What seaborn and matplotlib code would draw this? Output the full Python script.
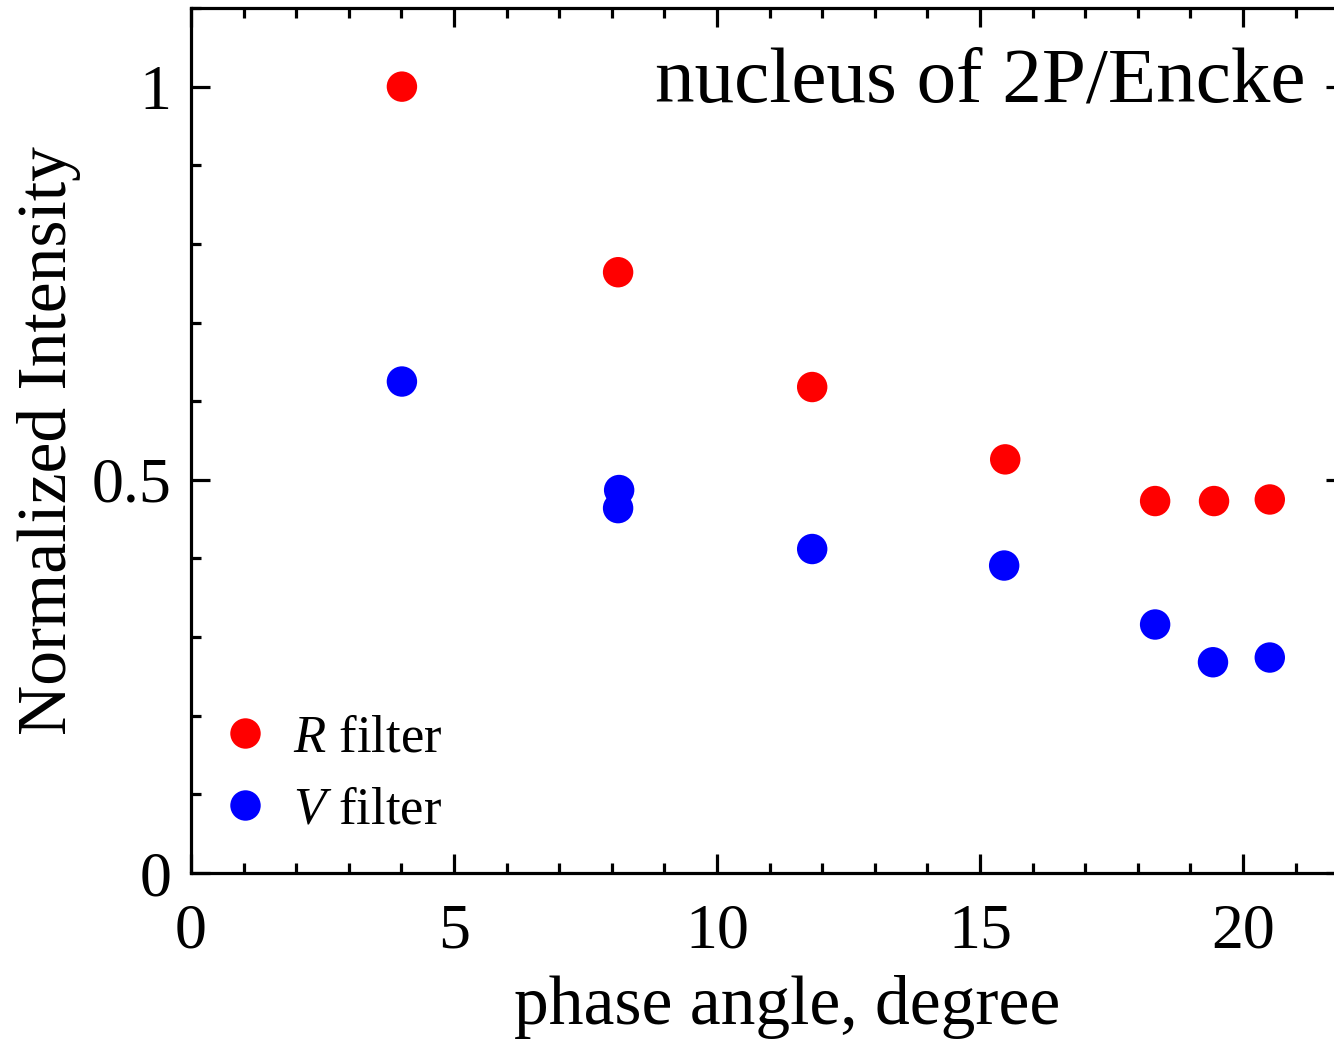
import matplotlib
matplotlib.use("Agg")
import matplotlib.pyplot as plt
import seaborn as sns
import pandas as pd
from matplotlib.ticker import MultipleLocator, FuncFormatter

# Data
r_phase = [4.01, 8.12, 11.81, 15.48, 18.33, 19.45, 20.51]
r_intensity = [1.000, 0.764, 0.618, 0.526, 0.473, 0.473, 0.475]
v_phase = [4.01, 8.14, 8.12, 11.81, 15.46, 18.33, 19.43, 20.51]
v_intensity = [0.625, 0.487, 0.464, 0.412, 0.391, 0.316, 0.268, 0.274]
labels = ["$\\mathit{R}$ filter", "$\\mathit{V}$ filter"]
title = "nucleus of 2P/Encke"

df = pd.DataFrame({
    "phase": r_phase + v_phase,
    "intensity": r_intensity + v_intensity,
    "filter": [labels[0]] * len(r_phase) + [labels[1]] * len(v_phase),
})

sns.set_style("ticks")
plt.rcParams["font.family"] = ["Liberation Serif", "DejaVu Serif"]
plt.rcParams["mathtext.fontset"] = "custom"
plt.rcParams["mathtext.rm"] = "Liberation Serif"
plt.rcParams["mathtext.it"] = "Liberation Serif:italic"
for k in ["text.color", "axes.labelcolor", "xtick.color", "ytick.color",
          "axes.edgecolor"]:
    plt.rcParams[k] = "black"

fig = plt.figure(figsize=(13.34, 10.43), dpi=100)
ax = fig.add_axes([191 / 1334, 1 - 873 / 1043, (1345 - 191) / 1334, (873 - 8) / 1043])

sns.scatterplot(data=df, x="phase", y="intensity", hue="filter",
                palette={labels[0]: "#ff0000", labels[1]: "#0000ff"},
                s=480, edgecolor="none", linewidth=0, ax=ax, zorder=3)

ax.set_xlim(0, 21.94)
ax.set_ylim(0, 1.1)
ax.xaxis.set_major_locator(MultipleLocator(5))
ax.xaxis.set_minor_locator(MultipleLocator(1))
ax.yaxis.set_major_locator(MultipleLocator(0.5))
ax.yaxis.set_minor_locator(MultipleLocator(0.1))
ax.yaxis.set_major_formatter(FuncFormatter(lambda v, p: f"{v:g}"))
ax.xaxis.set_major_formatter(FuncFormatter(lambda v, p: f"{v:g}"))

for s in ax.spines.values():
    s.set_linewidth(2.3)
    s.set_color("black")
ax.tick_params(which="both", direction="in", top=True, right=True,
               width=2.3, colors="black", labelsize=46)
ax.tick_params(axis="x", which="major", length=14, pad=22)
ax.tick_params(axis="y", which="major", length=14, pad=14)
ax.tick_params(which="minor", length=7)

ax.set_xlabel("phase angle, degree", fontsize=50)
ax.set_ylabel("Normalized Intensity", fontsize=50, labelpad=8)
ax.xaxis.set_label_coords(0.517, -0.118)

ax.text(0.966, 0.955, title, transform=ax.transAxes, ha="right", va="top",
        fontsize=57)

leg = ax.legend(loc="lower left", frameon=False, fontsize=38,
                bbox_to_anchor=(0.024, 0.045), borderaxespad=0, borderpad=0,
                handlelength=1.0, handletextpad=0.4,
                labelspacing=0.45, title=None)

fig.savefig("out.png", dpi=100)
